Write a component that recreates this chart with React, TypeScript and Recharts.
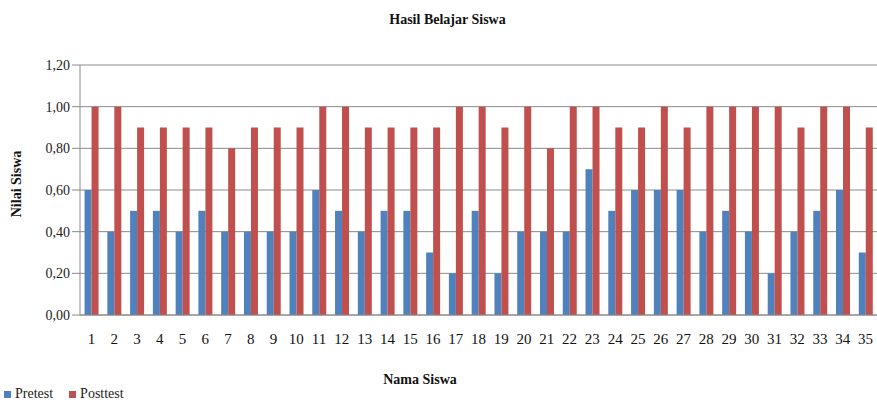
import { BarChart, Bar, XAxis, YAxis, CartesianGrid, Legend } from "recharts";

const students = [
  "1", "2", "3", "4", "5", "6", "7", "8", "9", "10", "11", "12", "13", "14", "15", "16", "17", "18",
  "19", "20", "21", "22", "23", "24", "25", "26", "27", "28", "29", "30", "31", "32", "33", "34", "35",
];
const pretest = [
  0.6, 0.4, 0.5, 0.5, 0.4, 0.5, 0.4, 0.4, 0.4, 0.4, 0.6, 0.5, 0.4, 0.5, 0.5, 0.3, 0.2, 0.5,
  0.2, 0.4, 0.4, 0.4, 0.7, 0.5, 0.6, 0.6, 0.6, 0.4, 0.5, 0.4, 0.2, 0.4, 0.5, 0.6, 0.3,
];
const posttest = [
  1, 1, 0.9, 0.9, 0.9, 0.9, 0.8, 0.9, 0.9, 0.9, 1, 1, 0.9, 0.9, 0.9, 0.9, 1, 1,
  0.9, 1, 0.8, 1, 1, 0.9, 0.9, 1, 0.9, 1, 1, 1, 1, 0.9, 1, 1, 0.9,
];
const yTicks = [0, 0.2, 0.4, 0.6, 0.8, 1.0, 1.2];
const seriesOrder = ["Pretest", "Posttest"];

const data = students.map((name, i) => ({ name, Pretest: pretest[i], Posttest: posttest[i] }));

const FONT = '"Liberation Serif", "DejaVu Serif", serif';
const GRID = "#8a8a8a";

export default function App() {
  return (
    <div style={{ position: "absolute", left: 0, top: 0, width: 877, height: 404, background: "#fff", fontFamily: FONT }}>
      <div style={{ position: "absolute", top: 12, left: 0, width: 895, textAlign: "center", fontWeight: "bold", fontSize: 14, color: "#111" }}>
        Hasil Belajar Siswa
      </div>
      <div
        style={{
          position: "absolute", left: 17, top: 184, transform: "translate(-50%, -50%) rotate(-90deg)",
          fontWeight: "bold", fontSize: 14, color: "#111", whiteSpace: "nowrap",
        }}
      >
        Nilai Siswa
      </div>
      <div style={{ position: "absolute", top: 372, left: 0, width: 840, textAlign: "center", fontWeight: "bold", fontSize: 14, color: "#111" }}>
        Nama Siswa
      </div>
      <BarChart
        width={877}
        height={404}
        data={data}
        margin={{ top: 65, right: 0, left: 0, bottom: 43 }}
        barCategoryGap="20%"
        barGap={0}
      >
        <CartesianGrid vertical={false} stroke={GRID} />
        <YAxis
          width={80}
          domain={[0, 1.2]}
          ticks={yTicks}
          tickFormatter={(v: number) => v.toFixed(2).replace(".", ",")}
          tickSize={8}
          tickLine={{ stroke: GRID }}
          axisLine={{ stroke: GRID }}
          tick={{ fill: "#222", fontSize: 14, fontFamily: FONT }}
        />
        <XAxis
          dataKey="name"
          interval={0}
          tickLine={false}
          axisLine={{ stroke: GRID }}
          tickMargin={12}
          tick={{ fill: "#111", fontSize: 15, fontFamily: FONT }}
        />
        <Legend
          align="left"
          verticalAlign="bottom"
          iconType="square"
          iconSize={7}
          itemSorter={(item: any) => seriesOrder.indexOf(item.value)}
          wrapperStyle={{ position: "absolute", left: 4, top: 386, fontFamily: FONT, fontSize: 14, width: 200 }}
          formatter={(value: string) => (
            <span style={{ color: "#222", fontFamily: FONT, fontSize: 14, marginRight: 6 }}>{value}</span>
          )}
        />
        <Bar dataKey="Pretest" fill="#4F81BD" isAnimationActive={false} />
        <Bar dataKey="Posttest" fill="#C0504D" isAnimationActive={false} />
      </BarChart>
    </div>
  );
}
